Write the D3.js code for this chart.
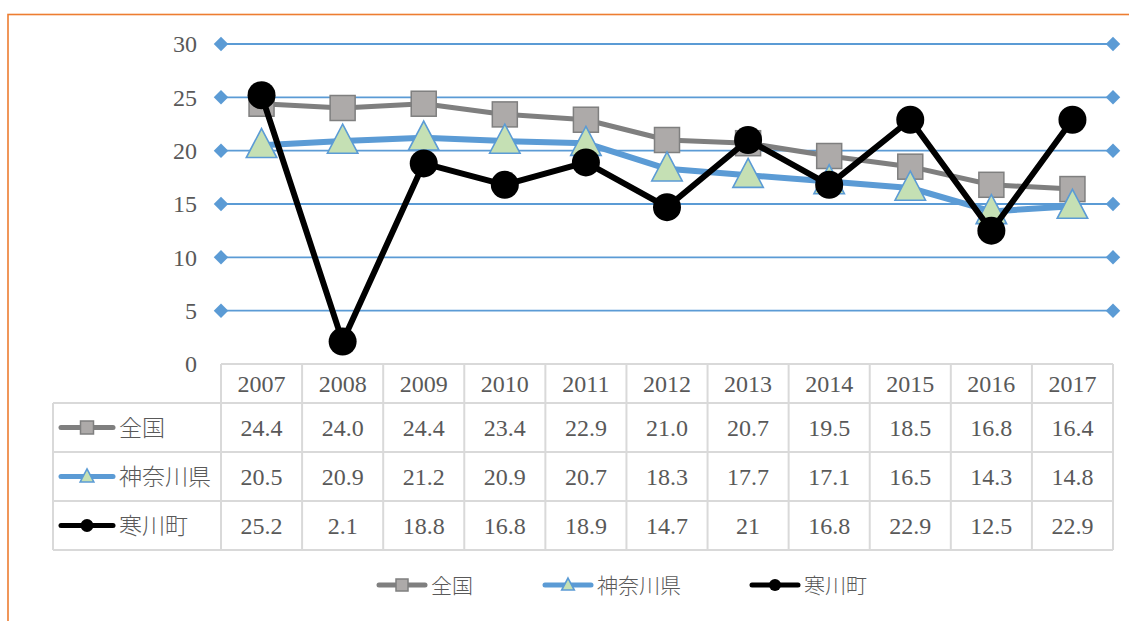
<!DOCTYPE html>
<html><head><meta charset="utf-8">
<script src="https://cdn.jsdelivr.net/npm/d3@7"></script>
<style>
html,body{margin:0;padding:0;background:#fff;}
svg{display:block;}
.num{font-family:"Liberation Serif","DejaVu Serif","Times New Roman",serif;}
.jp{font-family:"Noto Sans CJK JP","Noto Sans",sans-serif;}
</style></head>
<body>
<svg id="chart" width="1129" height="621"></svg>
<script>
const years = [2007, 2008, 2009, 2010, 2011, 2012, 2013, 2014, 2015, 2016, 2017];
const zenkoku = [24.4, 24.0, 24.4, 23.4, 22.9, 21.0, 20.7, 19.5, 18.5, 16.8, 16.4];
const kanagawa = [20.5, 20.9, 21.2, 20.9, 20.7, 18.3, 17.7, 17.1, 16.5, 14.3, 14.8];
const samukawa = [25.2, 2.1, 18.8, 16.8, 18.9, 14.7, 21, 16.8, 22.9, 12.5, 22.9];
const seriesNames = ["全国", "神奈川県", "寒川町"];
const yTicks = [0, 5, 10, 15, 20, 25, 30];

(function () {
const svg = d3.select("#chart");
const textColor = "#595959";

const plotL = 221, plotR = 1113, plotT = 44, plotB = 364;
const x = d3.scaleBand().domain(years).range([plotL, plotR]);
const y = d3.scaleLinear().domain([0, 30]).range([plotB, plotT]);
const cx = d => x(d) + x.bandwidth() / 2;

svg.append("rect").attr("x", 8).attr("y", 14.5).attr("width", 1300).attr("height", 800)
  .attr("fill", "none").attr("stroke", "#ED7D31").attr("stroke-width", 1.6);

const grid = svg.append("g");
yTicks.filter(t => t > 0).forEach(t => {
  grid.append("line").attr("x1", plotL).attr("x2", plotR).attr("y1", y(t)).attr("y2", y(t))
    .attr("stroke", "#5B9BD5").attr("stroke-width", 1.8);
  [plotL, plotR].forEach(px => {
    grid.append("path").attr("d", d3.symbol(d3.symbolSquare, 105)())
      .attr("transform", `translate(${px},${y(t)}) rotate(45)`).attr("fill", "#5B9BD5");
  });
});

svg.append("g").selectAll("text").data(yTicks).join("text").attr("class", "num")
  .attr("x", 197).attr("y", d => y(d)).attr("dy", "0.35em").attr("text-anchor", "end")
  .attr("font-size", 24).attr("fill", textColor).text(d => d);

const tbl = svg.append("g");
const tableLeft = 53;
const rowsY = [364, 403, 452, 501, 550];
const gridColor = "#D9D9D9";
tbl.append("line").attr("x1", plotL).attr("x2", plotR).attr("y1", rowsY[0]).attr("y2", rowsY[0])
  .attr("stroke", gridColor).attr("stroke-width", 2);
rowsY.slice(1).forEach(ry => {
  tbl.append("line").attr("x1", tableLeft).attr("x2", plotR).attr("y1", ry).attr("y2", ry)
    .attr("stroke", gridColor).attr("stroke-width", 2);
});
tbl.append("line").attr("x1", tableLeft).attr("x2", tableLeft).attr("y1", rowsY[1]).attr("y2", rowsY[4])
  .attr("stroke", gridColor).attr("stroke-width", 2);
years.forEach(yr => {
  tbl.append("line").attr("x1", x(yr)).attr("x2", x(yr)).attr("y1", rowsY[0]).attr("y2", rowsY[4])
    .attr("stroke", gridColor).attr("stroke-width", 2);
});
tbl.append("line").attr("x1", plotR).attr("x2", plotR).attr("y1", rowsY[0]).attr("y2", rowsY[4])
  .attr("stroke", gridColor).attr("stroke-width", 2);

tbl.selectAll("text.yr").data(years).join("text").attr("class", "yr num")
  .attr("x", d => cx(d)).attr("y", (rowsY[0] + rowsY[1]) / 2).attr("dy", "0.35em")
  .attr("text-anchor", "middle").attr("font-size", 24)
  .attr("fill", textColor).text(d => d);

const styles = [
  {line: "#7F7F7F", lw: 5, marker: "square", fill: "#ADAAA9", stroke: "#7F7F7F", size: 25, fmt: v => v.toFixed(1)},
  {line: "#5B9BD5", lw: 6, marker: "triangle", fill: "#C5E0B4", stroke: "#5B9BD5", size: 29, fmt: v => v.toFixed(1)},
  {line: "#000000", lw: 6, marker: "circle", fill: "#000000", stroke: "#000000", size: 28, fmt: v => String(v)}
];
const data = [zenkoku, kanagawa, samukawa];

function drawMarker(g, type, px, py, size, st) {
  if (type === "square") {
    g.append("rect").attr("x", px - size / 2).attr("y", py - size / 2).attr("width", size).attr("height", size)
      .attr("fill", st.fill).attr("stroke", st.stroke).attr("stroke-width", 1.5);
  } else if (type === "triangle") {
    const h = size, w = size * 1.05;
    g.append("path").attr("d", `M${px},${py - h * 0.58} L${px + w / 2},${py + h * 0.42} L${px - w / 2},${py + h * 0.42} Z`)
      .attr("fill", st.fill).attr("stroke", st.stroke).attr("stroke-width", 1.6);
  } else {
    g.append("circle").attr("cx", px).attr("cy", py).attr("r", size / 2).attr("fill", st.fill);
  }
}

const lineGen = d3.line().x((d, i) => cx(years[i])).y(d => y(d));
data.forEach((vals, si) => {
  const st = styles[si];
  const g = svg.append("g");
  g.append("path").attr("d", lineGen(vals)).attr("fill", "none").attr("stroke", st.line)
    .attr("stroke-width", st.lw).attr("stroke-linejoin", "round");
  vals.forEach((v, i) => drawMarker(g, st.marker, cx(years[i]), y(v), st.size, st));
});

function legendKey(g, si, x0, x1, yy, msize) {
  const st = styles[si];
  g.append("line").attr("x1", x0).attr("x2", x1).attr("y1", yy).attr("y2", yy)
    .attr("stroke", st.line).attr("stroke-width", 5).attr("stroke-linecap", "round");
  drawMarker(g, st.marker, (x0 + x1) / 2, yy, msize, st);
}
data.forEach((vals, si) => {
  const st = styles[si];
  const ry = (rowsY[si + 1] + rowsY[si + 2]) / 2;
  legendKey(tbl, si, 61, 113, ry, 13);
  tbl.append("text").attr("class", "jp").attr("x", 119).attr("y", ry).attr("dy", "0.36em")
    .attr("font-size", 23).attr("font-weight", 300)
    .attr("fill", textColor).text(seriesNames[si]);
  tbl.append("g").selectAll("text").data(vals).join("text").attr("class", "num")
    .attr("x", (d, i) => cx(years[i])).attr("y", ry).attr("dy", "0.35em").attr("text-anchor", "middle")
    .attr("font-size", 24).attr("fill", textColor).text(d => st.fmt(d));
});

const leg = svg.append("g");
const legX = [379, 545, 752];
legX.forEach((lx, si) => {
  legendKey(leg, si, lx, lx + 46, 585, 12);
  leg.append("text").attr("class", "jp").attr("x", lx + 52).attr("y", 585).attr("dy", "0.36em")
    .attr("font-size", 21).attr("font-weight", 300)
    .attr("fill", textColor).text(seriesNames[si]);
});
})();
</script>
</body></html>
